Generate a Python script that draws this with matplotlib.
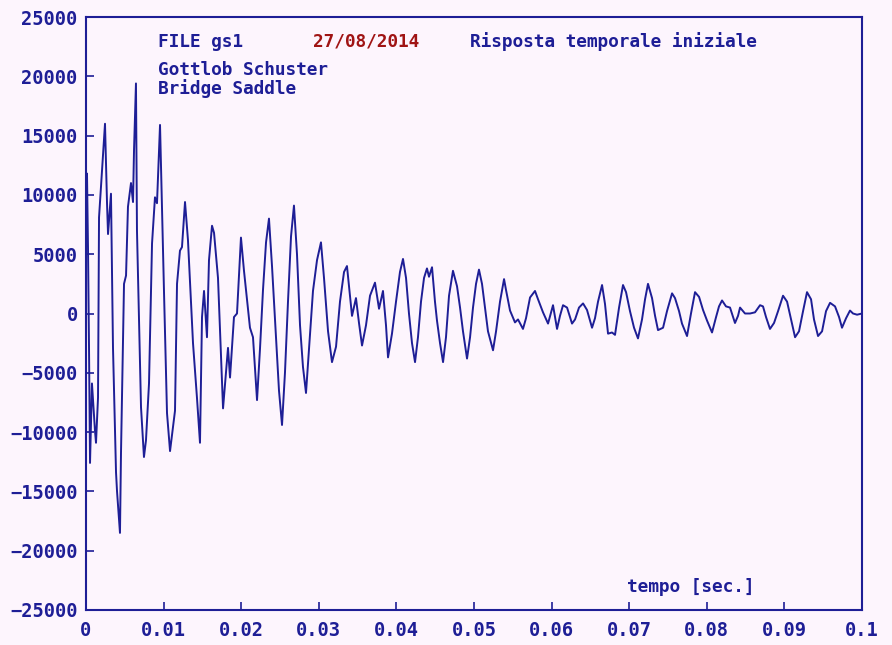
import matplotlib
matplotlib.use('Agg')
import matplotlib.pyplot as plt

# Waveform (time in ms, amplitude)
time_ms = [0.00, 0.13, 0.26, 0.39, 0.52, 0.77, 1.16, 1.29, 1.55, 1.68,
           2.06, 2.45, 2.71, 2.84, 3.22, 3.48, 3.87, 4.00, 4.38, 4.51,
           4.90, 5.16, 5.41, 5.80, 6.06, 6.19, 6.44, 6.57, 7.09, 7.47,
           7.73, 8.12, 8.51, 8.89, 9.15, 9.54, 10.05, 10.44, 10.83, 11.47,
           11.73, 12.11, 12.37, 12.76, 13.14, 13.79, 14.30, 14.69, 14.95, 15.21,
           15.59, 15.85, 16.24, 16.50, 17.01, 17.66, 18.30, 18.56, 19.07, 19.46,
           19.97, 20.36, 21.13, 21.52, 22.04, 22.42, 22.81, 23.20, 23.58, 23.97,
           24.49, 24.87, 25.26, 25.64, 26.03, 26.42, 26.80, 27.19, 27.58, 27.96,
           28.35, 28.74, 29.25, 29.77, 30.28, 30.67, 31.19, 31.70, 32.22, 32.73,
           33.25, 33.63, 34.02, 34.28, 34.79, 35.18, 35.57, 36.08, 36.60, 37.24,
           37.76, 38.27, 38.66, 38.92, 39.43, 39.95, 40.46, 40.85, 41.24, 41.62,
           42.01, 42.40, 42.78, 43.17, 43.56, 43.94, 44.20, 44.59, 44.97, 45.23,
           45.62, 46.01, 46.39, 46.78, 47.29, 47.81, 48.20, 48.58, 49.10, 49.49,
           49.87, 50.26, 50.64, 51.03, 51.42, 51.80, 52.45, 52.84, 53.35, 53.87,
           54.12, 54.64, 55.28, 55.67, 56.31, 56.70, 57.22, 57.86, 58.25, 58.89,
           59.54, 60.18, 60.70, 61.08, 61.47, 61.99, 62.63, 63.02, 63.53, 64.05,
           64.56, 65.21, 65.59, 65.98, 66.50, 66.88, 67.27, 67.78, 68.17, 68.69,
           69.20, 69.59, 70.10, 70.62, 71.13, 71.65, 72.04, 72.42, 72.94, 73.33,
           73.71, 74.36, 74.87, 75.52, 75.90, 76.42, 76.80, 77.45, 77.96, 78.48,
           79.00, 79.51, 80.03, 80.67, 81.19, 81.57, 81.96, 82.47, 82.99, 83.63,
           84.02, 84.28, 84.92, 85.57, 86.21, 86.86, 87.24, 87.63, 88.14, 88.66,
           89.18, 89.82, 90.34, 90.85, 91.37, 91.88, 92.40, 92.91, 93.43, 93.81,
           94.33, 94.85, 95.36, 95.88, 96.52, 97.04, 97.42, 97.94, 98.45, 98.84,
           99.36, 100.00]

amplitude = [9400, 11800, 5500, -2900, -12600, -5900, -9900, -10900, -7100, 8100,
             12000, 16000, 9300, 6700, 10100, -2900, -13400, -15000, -18500, -11800,
             2500, 3200, 9000, 11000, 9400, 13800, 19400, 7000, -7900, -12100,
             -10700, -5900, 5900, 9800, 9300, 15900, 1900, -8400, -11600, -8200,
             2500, 5300, 5600, 9400, 6200, -2500, -7100, -10900, -300, 1900,
             -2000, 4500, 7400, 6800, 3000, -8000, -2900, -5400, -300, 0,
             6400, 3600, -1200, -2000, -7300, -3000, 2000, 6000, 8000, 4000,
             -2000, -6500, -9400, -5000, 1000, 6500, 9100, 5000, -1000, -4500,
             -6700, -3000, 1900, 4500, 6000, 3000, -1500, -4100, -2800, 1000,
             3500, 4000, 1500, -200, 1300, -800, -2700, -1000, 1500, 2600,
             400, 1900, -1000, -3700, -1700, 1000, 3500, 4600, 3000, 0,
             -2500, -4100, -2000, 1000, 3000, 3800, 3100, 3900, 1000, -600,
             -2500, -4100, -2000, 1500, 3600, 2300, 500, -1500, -3800, -2000,
             500, 2500, 3700, 2500, 500, -1500, -3100, -1500, 1000, 2900,
             2000, 250, -750, -500, -1300, -400, 1350, 1900, 1200, 100,
             -850, 700, -1300, -200, 700, 500, -850, -500, 500, 850,
             300, -1200, -400, 1000, 2400, 800, -1700, -1600, -1800, 500,
             2400, 1800, 200, -1200, -2100, -500, 1200, 2500, 1300, -200,
             -1400, -1200, 200, 1700, 1300, 200, -850, -1900, 0, 1800,
             1400, 300, -600, -1600, -300, 600, 1100, 600, 500, -800,
             -200, 500, 0, 0, 100, 700, 600, -300, -1300, -800,
             200, 1500, 1000, -500, -2000, -1500, 200, 1800, 1200, -500,
             -1900, -1500, 200, 900, 600, -300, -1200, -400, 250, 0,
             -100, 0]

xticks = [0, 0.01, 0.02, 0.03, 0.04, 0.05, 0.06, 0.07, 0.08, 0.09, 0.1]
xtick_labels = ['0', '0.01', '0.02', '0.03', '0.04', '0.05', '0.06', '0.07', '0.08', '0.09', '0.1']
yticks = [-25000, -20000, -15000, -10000, -5000, 0, 5000, 10000, 15000, 20000, 25000]

blue = '#1e1e96'
red = '#a01414'
bg = '#fdf5fd'
mono = 'DejaVu Sans Mono'

fig = plt.figure(figsize=(8.92, 6.45), dpi=100, facecolor=bg)
ax = fig.add_axes([0.0964, 0.0543, 0.87, 0.9193])
ax.set_facecolor(bg)

t = [v / 1000 for v in time_ms]
ax.plot(t, amplitude, color=blue, linewidth=1.4)

ax.set_xlim(0, 0.1)
ax.set_ylim(-25000, 25000)
ax.set_xticks(xticks)
ax.set_xticklabels(xtick_labels)
ax.set_yticks(yticks)
ax.tick_params(direction='in', length=6, width=1.2, color=blue,
               labelcolor=blue, labelsize=13.5, pad=8)
ax.tick_params(axis='y', pad=6)
for lab in ax.get_xticklabels() + ax.get_yticklabels():
    lab.set_fontfamily(mono)
    lab.set_fontweight('bold')
for s in ax.spines.values():
    s.set_color(blue)
    s.set_linewidth(1.5)

kw = dict(transform=ax.transAxes, family=mono, fontweight='bold',
          fontsize=12.8, va='center', ha='left')
ax.text(0.093, 0.958, 'FILE gs1', color=blue, **kw)
ax.text(0.2925, 0.958, '27/08/2014', color=red, **kw)
ax.text(0.495, 0.958, 'Risposta temporale iniziale', color=blue, **kw)
ax.text(0.093, 0.911, 'Gottlob Schuster', color=blue, **kw)
ax.text(0.093, 0.879, 'Bridge Saddle', color=blue, **kw)
ax.text(0.697, 0.039, 'tempo [sec.]', color=blue, **kw)

plt.savefig('out.png', dpi=100, facecolor=bg)
